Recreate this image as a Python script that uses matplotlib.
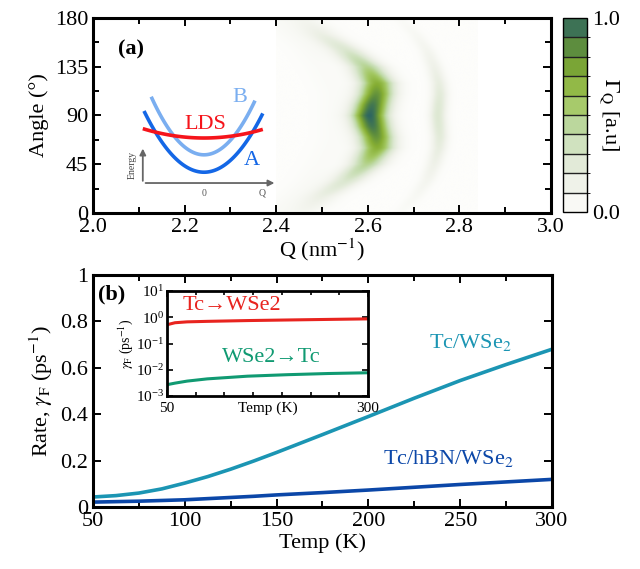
import numpy as np
import matplotlib
matplotlib.use("Agg")
import matplotlib.pyplot as plt
from matplotlib.colors import LinearSegmentedColormap, ListedColormap, BoundaryNorm
from matplotlib.ticker import MultipleLocator, FixedLocator, NullFormatter
import matplotlib.colorbar as mcolorbar

plt.rcParams['font.family'] = ['Liberation Serif', 'DejaVu Serif']
plt.rcParams['mathtext.fontset'] = 'stix'

# ---- panel (a): ridge knots (angle 0..90, mirrored about 90)
ridge_ang = [0, 15, 30, 45, 60, 70, 80, 90]
main_q = [2.46, 2.50, 2.555, 2.598, 2.620, 2.618, 2.610, 2.604]
main_amp = [0.08, 0.17, 0.30, 0.48, 0.70, 0.82, 0.93, 1.00]
side_q = [2.67, 2.705, 2.730, 2.745, 2.755, 2.757, 2.755, 2.753]
side_amp = [0.03, 0.06, 0.10, 0.15, 0.20, 0.24, 0.27, 0.28]
faint_q = [2.40, 2.44, 2.48, 2.50, 2.52, 2.53, 2.53, 2.53]
faint_amp = [0.04, 0.04, 0.04, 0.03, 0.03, 0.03, 0.03, 0.03]
q_range = [2.40, 2.84]

# schematic bands (q, energy in arbitrary units)
band_names = ['A', 'B', 'LDS']
band_min = [0.18, 0.47, 0.75]
band_curv = [1.02, 1.25, 0.15]
band_span = [(-1.0, 0.98), (-0.88, 0.85), (-1.02, 0.98)]
band_colors = ['#1467e6', '#7aaef0', '#f5141b']

# ---- panel (b): transfer rates
temp = [50, 62.5, 75, 87.5, 100, 112.5, 125, 137.5, 150, 175, 200, 225, 250, 275, 300]
rate_tc_wse2 = [0.043, 0.049, 0.060, 0.078, 0.103, 0.131, 0.163, 0.198, 0.235,
                0.312, 0.390, 0.469, 0.545, 0.614, 0.680]
rate_tc_hbn_wse2 = [0.021, 0.023, 0.025, 0.028, 0.031, 0.036, 0.041, 0.046, 0.052,
                    0.062, 0.073, 0.085, 0.097, 0.108, 0.119]

temp_in = [50, 60, 75, 100, 150, 200, 250, 300]
rate_tc_to_wse2 = [0.52, 0.62, 0.67, 0.70, 0.75, 0.79, 0.83, 0.87]
rate_wse2_to_tc = [0.0027, 0.0031, 0.0037, 0.0045, 0.0057, 0.0065, 0.0072, 0.0077]

cmap_colors = ['#fdfdfb', '#f0f2ea', '#dde8d2', '#c0daa8', '#a2c760', '#86ae33', '#5b8b3e', '#2e6661']

fig = plt.figure(figsize=(6.4, 5.69), dpi=100)

def style_axes(ax):
    for s in ax.spines.values():
        s.set_linewidth(2.2)
    ax.tick_params(which='both', direction='in', top=True, right=True, width=1.4, labelsize=16)
    ax.tick_params(which='major', length=6)
    ax.tick_params(which='minor', length=4)

# ================= top panel =================
ax1 = fig.add_axes([0.1453, 0.6257, 0.7156, 0.3427])
ang_full = np.linspace(0, 180, 361)
ang_mirror = np.minimum(ang_full, 180 - ang_full)
qg = np.linspace(q_range[0], q_range[1], 300)
img = np.zeros((len(ang_full), len(qg)))
for qk, ak, sig in [(main_q, main_amp, 0.027), (side_q, side_amp, 0.013), (faint_q, faint_amp, 0.03)]:
    qc = np.interp(ang_mirror, ridge_ang, qk)
    amp = np.interp(ang_mirror, ridge_ang, ak)
    img += amp[:, None] * np.exp(-0.5 * ((qg[None, :] - qc[:, None]) / sig) ** 2)
img = np.clip(img, 0, 1)

cmap = LinearSegmentedColormap.from_list('gq', cmap_colors)
ax1.imshow(img, extent=[q_range[0], q_range[1], 0, 180], origin='lower', aspect='auto',
           cmap=cmap, vmin=0, vmax=1, interpolation='bilinear')
ax1.set_xlim(2.0, 3.0)
ax1.set_ylim(0, 180)
style_axes(ax1)
ax1.xaxis.set_major_locator(FixedLocator([2.0, 2.2, 2.4, 2.6, 2.8, 3.0]))
ax1.xaxis.set_minor_locator(MultipleLocator(0.1))
ax1.set_xticklabels(['2.0', '2.2', '2.4', '2.6', '2.8', '3.0'])
ax1.yaxis.set_major_locator(FixedLocator([0, 45, 90, 135, 180]))
ax1.yaxis.set_minor_locator(MultipleLocator(22.5))
ax1.set_xlabel(r'Q (nm$^{-1}$)', fontsize=16, labelpad=0)
ax1.set_ylabel('Angle (°)', fontsize=16, labelpad=4)
ax1.text(0.055, 0.836, '(a)', transform=ax1.transAxes, fontsize=16, fontweight='bold', va='center')

# colorbar (discrete)
cax = fig.add_axes([0.8797, 0.6275, 0.0375, 0.3409])
disc = ListedColormap([cmap((i + 0.5) / 10) for i in range(10)])
cb = mcolorbar.ColorbarBase(cax, cmap=disc, norm=BoundaryNorm(np.linspace(0, 1, 11), 10),
                            drawedges=True, ticks=[0, 1])
cb.outline.set_linewidth(1.0)
cb.dividers.set_linewidth(1.0)
cb.dividers.set_color('#222222')
cax.set_yticklabels(['0.0', '1.0'])
cax.tick_params(length=0, labelsize=16, pad=4)
cax.text(1.95, 0.5, r'$\Gamma_{\rm Q}$ [a.u]', transform=cax.transAxes, rotation=270,
         fontsize=16, ha='center', va='center')

# schematic inset
axs = fig.add_axes([0.1875, 0.6485, 0.2656, 0.2021])
axs.set_xlim(-1.4, 1.433)
axs.set_ylim(-0.283, 1.633)
axs.axis('off')
for name, e0, c, span, col in zip(band_names, band_min, band_curv, band_span, band_colors):
    q = np.linspace(span[0], span[1], 100)
    axs.plot(q, e0 + c * q ** 2, color=col, lw=2.6, solid_capstyle='butt')
axs.annotate('', xy=(1.22, 0), xytext=(-1.02, 0),
             arrowprops=dict(arrowstyle='-|>', color='#666666', lw=1.3, mutation_scale=9))
axs.annotate('', xy=(-1.02, 0.62), xytext=(-1.02, -0.01),
             arrowprops=dict(arrowstyle='-|>', color='#666666', lw=1.3, mutation_scale=9))
axs.text(-1.2, 0.3, 'Energy', rotation=90, fontsize=7, color='#444444', ha='center', va='center')
axs.text(0.0, -0.17, '0', fontsize=7, color='#555555', ha='center', va='center')
axs.text(0.97, -0.17, 'Q', fontsize=7, color='#555555', ha='center', va='center')
axs.text(0.6, 1.43, 'B', fontsize=16, color=band_colors[1], ha='center', va='center')
axs.text(0.02, 0.98, 'LDS', fontsize=16, color=band_colors[2], ha='center', va='center')
axs.text(0.8, 0.38, 'A', fontsize=16, color=band_colors[0], ha='center', va='center')

# ================= bottom panel =================
ax2 = fig.add_axes([0.1453, 0.1090, 0.7172, 0.4077])
ax2.plot(temp, rate_tc_wse2, color='#1b95b3', lw=2.6)
ax2.plot(temp, rate_tc_hbn_wse2, color='#0b47a8', lw=2.6)
ax2.set_xlim(50, 300)
ax2.set_ylim(0, 1)
style_axes(ax2)
ax2.xaxis.set_major_locator(FixedLocator([50, 100, 150, 200, 250, 300]))
ax2.xaxis.set_minor_locator(MultipleLocator(25))
ax2.yaxis.set_major_locator(FixedLocator([0, 0.2, 0.4, 0.6, 0.8, 1.0]))
ax2.set_yticklabels(['0', '0.2', '0.4', '0.6', '0.8', '1'])
ax2.set_xlabel('Temp (K)', fontsize=16, labelpad=2)
ax2.set_ylabel(r'Rate, $\gamma_{\rm F}$ (ps$^{-1}$)', fontsize=16, labelpad=4)
ax2.text(0.011, 0.914, '(b)', transform=ax2.transAxes, fontsize=16, fontweight='bold', va='center')
ax2.text(233, 0.711, r'Tc/WSe$_2$', color='#1b95b3', fontsize=16, va='center')
ax2.text(208, 0.211, r'Tc/hBN/WSe$_2$', color='#0b47a8', fontsize=16, va='center')

# rate inset
axi = fig.add_axes([0.2609, 0.3040, 0.3141, 0.1845])
axi.semilogy(temp_in, rate_tc_to_wse2, color='#e8241f', lw=2.2)
axi.semilogy(temp_in, rate_wse2_to_tc, color='#109a72', lw=2.2)
axi.set_xlim(50, 300)
axi.set_ylim(1e-3, 1e1)
for s in axi.spines.values():
    s.set_linewidth(2.0)
axi.tick_params(which='both', direction='in', top=True, right=True, width=1.2, labelsize=11, pad=2)
axi.tick_params(which='major', length=4)
axi.tick_params(which='minor', length=3)
axi.tick_params(axis='x', pad=4)
axi.xaxis.set_major_locator(FixedLocator([50, 300]))
axi.xaxis.set_minor_locator(FixedLocator(np.linspace(50, 300, 8)))
axi.xaxis.set_minor_formatter(NullFormatter())
axi.yaxis.set_major_locator(FixedLocator([1e-3, 1e-2, 1e-1, 1e0, 1e1]))
axi.yaxis.set_minor_locator(FixedLocator([]))
axi.text(0.5, -0.12, 'Temp (K)', transform=axi.transAxes, fontsize=11, ha='center', va='center')
axi.set_ylabel(r'$\gamma_{\rm F}$ (ps$^{-1}$)', fontsize=10, labelpad=1)
axi.text(0.08, 0.867, 'Tc→WSe2', transform=axi.transAxes, color='#e8241f', fontsize=16, va='center')
axi.text(0.274, 0.371, 'WSe2→Tc', transform=axi.transAxes, color='#109a72', fontsize=16, va='center')

fig.savefig('out.png', dpi=100)
